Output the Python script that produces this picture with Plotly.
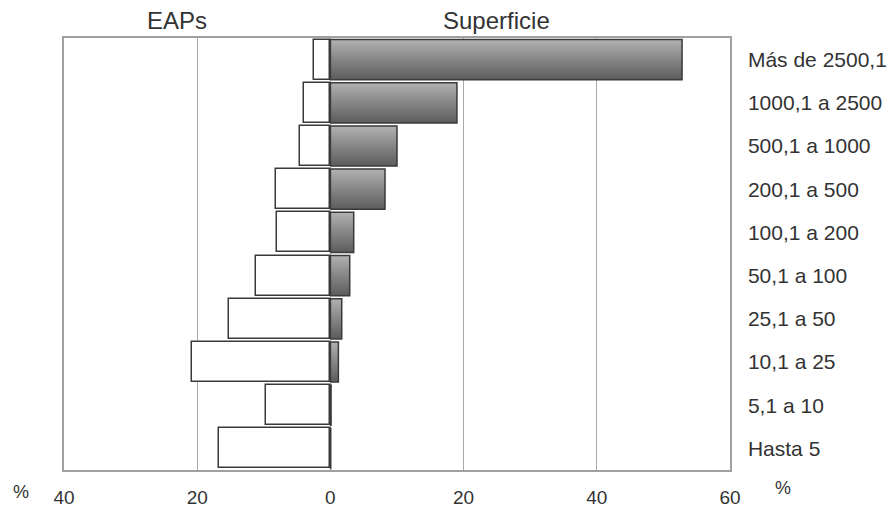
import plotly.graph_objects as go

# Farm-size classes (hectares), listed bottom to top
categories = ["Hasta 5", "5,1 a 10", "10,1 a 25", "25,1 a 50", "50,1 a 100",
              "100,1 a 200", "200,1 a 500", "500,1 a 1000", "1000,1 a 2500",
              "Más de 2500,1"]

# Share of farms (EAPs) per class, %
eaps = [16.8, 9.6, 20.8, 15.2, 11.2, 8.0, 8.1, 4.5, 3.9, 2.5]
# Share of total area (Superficie) per class, %
superficie = [0.05, 0.1, 1.2, 1.7, 2.9, 3.5, 8.2, 10.0, 19.0, 52.8]

x_ticks = [-40, -20, 0, 20, 40, 60]
x_tick_text = ["40", "20", "0", "20", "40", "60"]

BAR_W = 0.93
TEXT = "#333333"
FONT = "Liberation Sans, Arial, sans-serif"

fig = go.Figure()

# EAPs: white bars extending to the left
fig.add_trace(go.Bar(
    y=list(range(len(categories))),
    x=[-v for v in eaps],
    orientation="h",
    width=BAR_W,
    marker=dict(color="white", line=dict(color="#3a3a3a", width=1.5)),
    showlegend=False,
    hoverinfo="skip",
))

# Superficie: grey bars with a vertical shading, drawn as filled rectangles
for i, v in enumerate(superficie):
    y0, y1 = i - BAR_W / 2, i + BAR_W / 2
    fig.add_trace(go.Scatter(
        x=[0, v, v, 0, 0],
        y=[y0, y0, y1, y1, y0],
        mode="lines",
        fill="toself",
        fillgradient=dict(
            type="vertical",
            colorscale=[[0, "#5c5c5c"], [0.55, "#8a8a8a"], [1, "#b2b2b2"]],
        ),
        line=dict(color="#3a3a3a", width=1.5),
        showlegend=False,
        hoverinfo="skip",
    ))

fig.update_layout(
    width=896, height=511,
    margin=dict(l=64, r=166, t=38, b=41),
    paper_bgcolor="white",
    plot_bgcolor="white",
    font=dict(family=FONT, size=21, color=TEXT),
    bargap=0,
)

fig.update_xaxes(
    range=[-40, 60],
    tickvals=x_ticks,
    ticktext=x_tick_text,
    showgrid=True, gridcolor="#a8a8a8", gridwidth=1,
    zeroline=False,
    showline=True, linecolor="#a0a0a0", linewidth=1.5, mirror=True,
    ticks="", ticklabelstandoff=9,
    tickfont=dict(size=19, color=TEXT),
    automargin=False,
)

fig.update_yaxes(
    range=[-0.5, len(categories) - 0.5],
    tickvals=list(range(len(categories))),
    ticktext=categories,
    side="right",
    showgrid=False, zeroline=False,
    showline=True, linecolor="#a0a0a0", linewidth=1.5, mirror=True,
    ticks="", ticklabelstandoff=12,
    tickfont=dict(size=21, color=TEXT),
    automargin=False,
)

# Column headings
fig.add_annotation(text="EAPs", x=0.17, y=1.0, xref="paper", yref="paper",
                   xanchor="center", yanchor="bottom", yshift=2,
                   showarrow=False, font=dict(size=24, color=TEXT))
fig.add_annotation(text="Superficie", x=0.65, y=1.0, xref="paper", yref="paper",
                   xanchor="center", yanchor="bottom", yshift=2,
                   showarrow=False, font=dict(size=24, color=TEXT))
# Unit markers at both ends of the value axis
fig.add_annotation(text="%", x=0.0, y=0.0, xref="paper", yref="paper",
                   xanchor="center", yanchor="top", xshift=-43, yshift=-10,
                   showarrow=False, font=dict(size=18, color=TEXT))
fig.add_annotation(text="%", x=1.0, y=0.0, xref="paper", yref="paper",
                   xanchor="center", yanchor="top", xshift=53, yshift=-6,
                   showarrow=False, font=dict(size=18, color=TEXT))

fig.write_html("out.html")
